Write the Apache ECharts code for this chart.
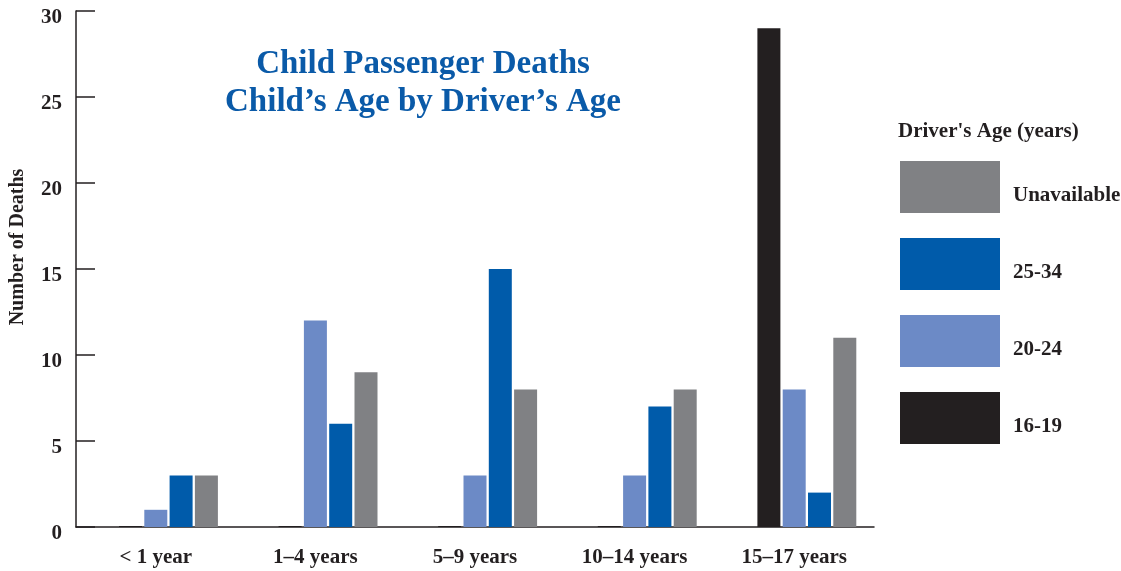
<!DOCTYPE html>
<html>
<head>
<meta charset="utf-8">
<script src="https://cdn.jsdelivr.net/npm/echarts@6/dist/echarts.min.js"></script>
<style>
html, body { margin: 0; padding: 0; background: #fff; }
#Builder { width: 1121px; height: 571px; }
</style>
</head>
<body>
<div id="Builder"></div>
<script>
// child's age groups
var categories = ['< 1 year', '1\u20134 years', '5\u20139 years', '10\u201314 years', '15\u201317 years']
var yTicks = [0, 5, 10, 15, 20, 25, 30]

// deaths by driver's age
var driver1619 = [0, 0, 0, 0, 29]
var driver2024 = [1, 12, 3, 3, 8]
var driver2534 = [3, 6, 15, 7, 2]
var unavailable = [3, 9, 8, 8, 11]

var ink = '#231f20'
var serif = '"Liberation Serif", "DejaVu Serif", serif'

function barSeries(name, data, color, extra) {
    var s = {
        name: name,
        type: 'bar',
        barWidth: 23,
        barGap: '10%',
        itemStyle: { color: color },
        emphasis: { disabled: true },
        data: data
    }
    return Object.assign(s, extra || {})
}

var option = {
    animation: false,
    title: {
        text: 'Child Passenger Deaths\nChild\u2019s Age by Driver\u2019s Age',
        left: 418,
        top: 40,
        textAlign: 'center',
        textStyle: {
            fontFamily: serif,
            fontWeight: 'bold',
            fontSize: 33,
            lineHeight: 38,
            color: '#0a5aa8'
        }
    },
    graphic: [{
        type: 'text',
        left: 898,
        top: 121,
        style: {
            text: 'Driver\'s Age (years)',
            font: 'bold 21px ' + serif,
            fill: ink
        }
    }],
    legend: {
        orient: 'vertical',
        left: 895,
        top: 156,
        itemWidth: 100,
        itemHeight: 52,
        itemGap: 25,
        icon: 'rect',
        selectedMode: false,
        data: ['Unavailable', '25-34', '20-24', '16-19'],
        formatter: '{t|{name}}',
        textStyle: {
            rich: {
                t: {
                    fontFamily: serif,
                    fontWeight: 'bold',
                    fontSize: 21,
                    color: ink,
                    padding: [18, 0, 0, 8]
                }
            }
        }
    },
    grid: {
        left: 76,
        right: 247,
        top: 11,
        bottom: 44,
        outerBoundsMode: 'none'
    },
    xAxis: {
        type: 'category',
        data: categories,
        axisLine: { lineStyle: { color: ink, width: 1.5 } },
        axisTick: { inside: true, length: 14, lineStyle: { color: ink, width: 1.5 } },
        axisLabel: {
            margin: 20,
            fontFamily: serif,
            fontWeight: 'bold',
            fontSize: 21,
            color: ink
        }
    },
    yAxis: {
        type: 'value',
        min: yTicks[0],
        max: yTicks[yTicks.length - 1],
        interval: yTicks[1] - yTicks[0],
        name: 'Number of Deaths',
        nameLocation: 'middle',
        nameGap: 48,
        nameTextStyle: {
            fontFamily: serif,
            fontWeight: 'bold',
            fontSize: 20,
            color: ink,
            padding: [0, 0, 0, 44]
        },
        splitLine: { show: false },
        axisLine: { show: true, lineStyle: { color: ink, width: 1.5 } },
        axisTick: { show: true, inside: true, length: 19, lineStyle: { color: ink, width: 1.5 } },
        axisLabel: {
            margin: 14,
            fontFamily: serif,
            fontWeight: 'bold',
            fontSize: 21,
            color: ink,
            verticalAlign: 'top',
            lineHeight: 14
        }
    },
    series: [
        // empty slot, keeps the groups shifted right like the original
        barSeries('', [], 'rgba(0,0,0,0)'),
        barSeries('16-19', driver1619, ink, { barMinHeight: 1 }),
        barSeries('20-24', driver2024, '#6c8ac6'),
        barSeries('25-34', driver2534, '#005baa'),
        barSeries('Unavailable', unavailable, '#808184')
    ]
}

var builder = echarts.init(document.getElementById('Builder'))
builder.setOption(option)
</script>
</body>
</html>
